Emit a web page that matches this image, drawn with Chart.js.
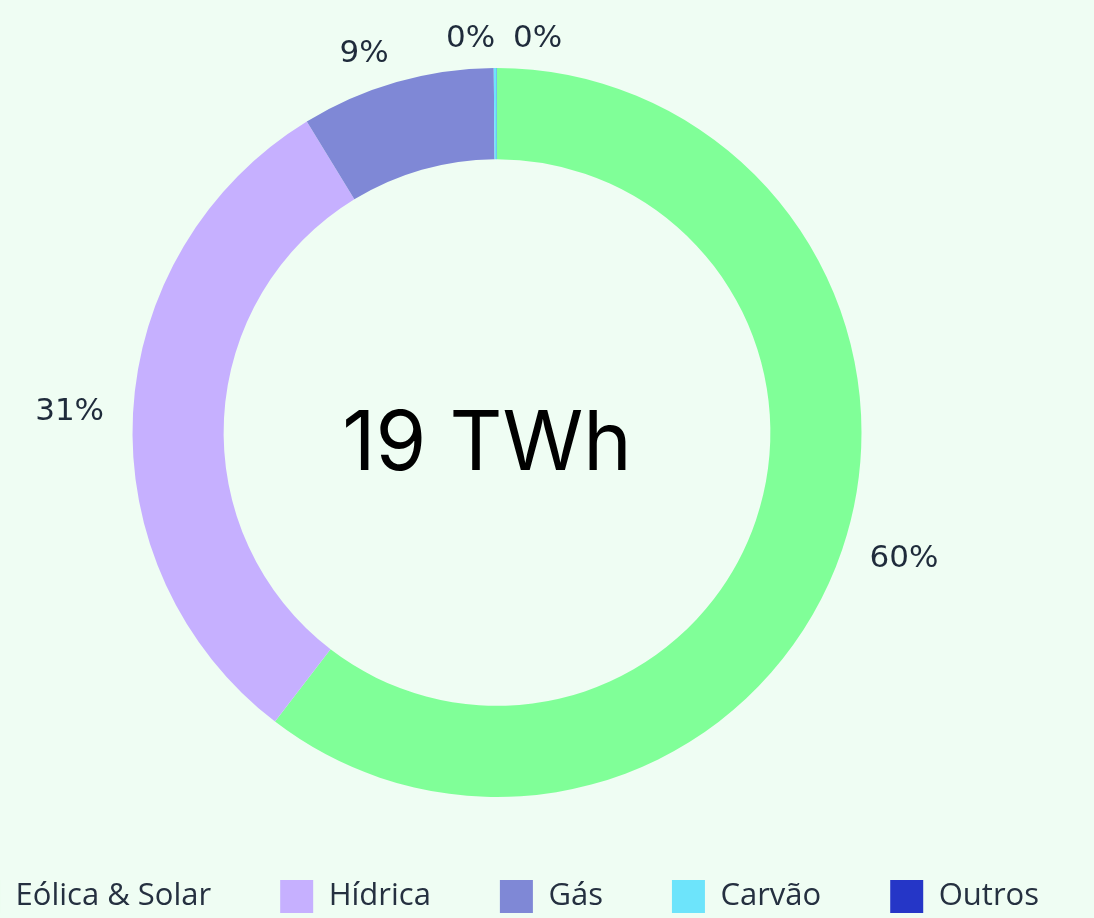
<!DOCTYPE html>
<html lang="pt">
<head>
<meta charset="utf-8">
<title>Produção de eletricidade</title>
<script src="https://cdn.jsdelivr.net/npm/chart.js@4/dist/chart.umd.min.js"></script>
<style>
  html, body {
    margin: 0;
    padding: 0;
    width: 1094px;
    height: 918px;
    overflow: hidden;
    background: #effdf3;
  }
  /* the chart box is wider and taller than the window, like the original page */
  #wrap {
    position: absolute;
    left: -113px;
    top: 0;
    width: 1220px;
    height: 923px;
  }
</style>
</head>
<body>
<div id="wrap"><canvas id="mixChart"></canvas></div>
<script>
// Data (TWh)
const sources = ['Eólica & Solar', 'Hídrica', 'Gás', 'Carvão', 'Outros'];
const production = [11.48, 5.86, 1.633, 0.025, 0.002];
const sourceColors = ['#80ff98', '#c6b0ff', '#7f88d6', '#6de4fb', '#2536c7'];
const unit = 'TWh';

const labelColor = '#1f2b3b';

// Total written in the hole of the doughnut
const centerTotal = {
  id: 'centerTotal',
  afterDatasetsDraw(chart) {
    const arc = chart.getDatasetMeta(0).data[0];
    if (!arc) return;
    const total = production.reduce((sum, v) => sum + v, 0);
    const ctx = chart.ctx;
    ctx.save();
    ctx.font = '400 82px Inter, "DejaVu Sans", sans-serif';
    ctx.fillStyle = '#000000';
    ctx.textAlign = 'center';
    ctx.textBaseline = 'alphabetic';
    ctx.fillText(Math.round(total) + ' ' + unit, arc.x - 10, arc.y + 37);
    ctx.restore();
  }
};

// Percent labels outside each slice
const outerPercent = {
  id: 'outerPercent',
  afterDatasetsDraw(chart) {
    const meta = chart.getDatasetMeta(0);
    const total = production.reduce((sum, v) => sum + v, 0);
    const ctx = chart.ctx;
    const placed = [];
    ctx.save();
    ctx.font = '400 31px "DejaVu Sans", sans-serif';
    ctx.fillStyle = labelColor;
    ctx.textBaseline = 'middle';
    ctx.textAlign = 'left';
    meta.data.forEach((arc, i) => {
      const p = arc.getProps(['x', 'y', 'startAngle', 'endAngle', 'outerRadius'], true);
      const mid = (p.startAngle + p.endAngle) / 2;
      const dist = p.outerRadius + 29;
      const text = Math.round(production[i] / total * 100) + '%';
      const w = ctx.measureText(text).width;
      const x = p.x + Math.cos(mid) * dist;
      const y = p.y + Math.sin(mid) * dist;
      let left = Math.cos(mid) < 0 ? x - w : x;
      // push to the right while it runs into an earlier label
      let moved = true;
      while (moved) {
        moved = false;
        for (const b of placed) {
          if (left < b.r + 14 && left + w > b.l - 14 && Math.abs(y - b.y) < 26) {
            left = b.r + 18;
            moved = true;
          }
        }
      }
      placed.push({ l: left, r: left + w, y });
      ctx.fillText(text, left, y);
    });
    ctx.restore();
  }
};

// the legend row sits a few pixels right of the doughnut centre in the original
const legendNudge = {
  id: 'legendNudge',
  afterLayout(chart) {
    chart.legend.left += 6;
    chart.legend.right += 6;
  }
};

const ctx = document.getElementById('mixChart').getContext('2d');
new Chart(ctx, {
  type: 'doughnut',
  data: {
    labels: sources,
    datasets: [{
      data: production,
      backgroundColor: sourceColors,
      borderWidth: 0,
      hoverOffset: 0,
      radius: '96.3%',
      cutout: '75%'
    }]
  },
  options: {
    responsive: true,
    maintainAspectRatio: false,
    animation: false,
    layout: {
      padding: { top: 54, bottom: 0, left: 0, right: 0 }
    },
    plugins: {
      legend: {
        position: 'bottom',
        labels: {
          boxWidth: 33,
          boxHeight: 33,
          padding: 69,
          color: '#253040',
          font: { family: '"Open Sans", sans-serif', size: 31 }
        }
      },
      tooltip: { enabled: false }
    }
  },
  plugins: [centerTotal, outerPercent, legendNudge]
});
</script>
</body>
</html>
